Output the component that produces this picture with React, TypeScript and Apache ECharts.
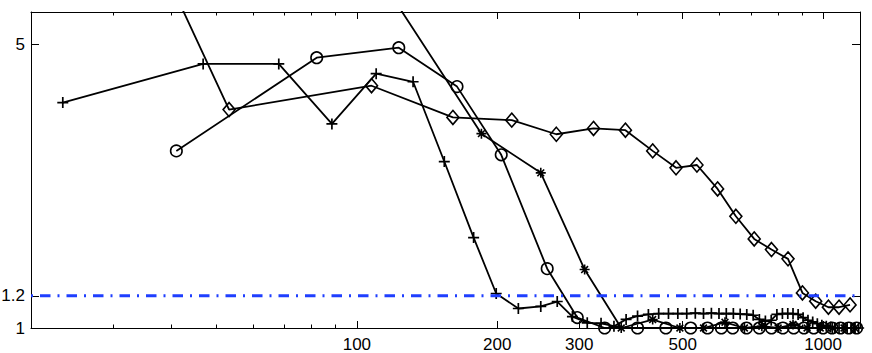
import React, { useEffect, useRef } from 'react';
import * as echarts from 'echarts';

// ---- tick values ----
const xMajorTicks = [100, 200, 300, 500, 1000];
const xMinorTicks = [30, 40, 50, 60, 70, 80, 90, 400, 600, 700, 800, 900];
const yTicks = [1, 1.2, 5];

// ---- series "+" ----
const plusX = [23.4, 46.8, 68, 88.4, 110, 132, 154, 178, 199, 222, 248, 269, 290, 312, 334, 356, 378, 400, 422, 444, 466, 488, 510, 532, 554, 576, 598, 620, 642, 664, 686, 708, 730, 752, 774, 796, 818, 840, 862, 884, 906, 928, 950, 972, 994, 1016, 1038, 1060, 1082, 1104, 1126, 1148, 1170, 1192];
const plusY = [3.59, 4.47, 4.47, 3.18, 4.23, 4.04, 2.57, 1.67, 1.216, 1.117, 1.13, 1.162, 1.067, 1.03, 1.027, 1.01, 1.05, 1.07, 1.08, 1.085, 1.085, 1.085, 1.085, 1.088, 1.085, 1.088, 1.085, 1.085, 1.085, 1.082, 1.08, 1.075, 1.05, 1.04, 1.045, 1.08, 1.085, 1.085, 1.085, 1.08, 1.06, 1.045, 1.035, 1.025, 1.015, 1.01, 1.005, 1.0, 1.0, 1.0, 1.0, 1.0, 1.0, 1.0];

// ---- series "*" ----
const starX = [62, 123, 185, 248, 308, 369, 431, 493, 554, 616, 678, 739, 801, 862, 924, 986, 1047, 1109, 1170];
const starY = [12, 6.18, 3.01, 2.41, 1.393, 1.0, 1.049, 1.0, 1.0, 1.033, 1.0, 1.01, 1.0, 1.02, 1.0, 1.0, 1.0, 1.0, 1.0];

// ---- series "o" ----
const circleX = [41, 82, 123, 164, 204, 256, 297, 340, 400, 460, 520, 565, 605, 640, 685, 730, 775, 820, 865, 910, 955, 1000, 1045, 1090, 1135, 1180];
const circleY = [2.73, 4.63, 4.9, 3.93, 2.67, 1.4, 1.061, 1.0, 1.0, 1.0, 1.0, 1.0, 1.0, 1.0, 1.0, 1.0, 1.0, 1.0, 1.0, 1.0, 1.0, 1.0, 1.0, 1.0, 1.0, 1.0];

// ---- series "diamond" ----
const diamondX = [35, 53.2, 107.5, 160.7, 214.9, 267.8, 321.8, 376.7, 431, 483.7, 536.3, 593.9, 650, 711.6, 775, 841, 903, 964, 1026.6, 1082, 1142.5];
const diamondY = [9.7, 3.45, 3.95, 3.3, 3.25, 3.0, 3.1, 3.07, 2.73, 2.48, 2.52, 2.2, 1.884, 1.657, 1.56, 1.48, 1.22, 1.164, 1.125, 1.125, 1.14];

// ---- threshold ----
const thresholdY = 1.2;

const X_MIN = 20;
const X_MAX = 1200;
const Y_MIN = 1;
const Y_MAX = 6;

const FONT = '"Liberation Sans", Arial, Helvetica, sans-serif';
const PLUS = 'path://M5,0L5,10M0,5L10,5';
const STAR = 'path://M5,0L5,10M0,5L10,5M1.6,1.6L8.4,8.4M8.4,1.6L1.6,8.4';

const zip = (xs: number[], ys: number[]) => xs.map((x, i) => [x, ys[i]]);

function xAxisDef(position: string, ticks: number[], len: number, showLine: boolean, showLabel: boolean) {
  return {
    type: 'log',
    logBase: 10,
    min: X_MIN,
    max: X_MAX,
    position,
    axisLine: { show: showLine, onZero: false, lineStyle: { color: '#000', width: 1 } },
    axisTick: { show: true, inside: true, length: len, customValues: ticks, lineStyle: { color: '#000', width: 1 } },
    axisLabel: showLabel
      ? {
          show: true,
          customValues: ticks,
          formatter: (v: number) => String(Math.round(v)),
          color: '#000',
          fontSize: 17,
          fontFamily: FONT,
          margin: 8,
        }
      : { show: false },
    splitLine: { show: false },
    minorTick: { show: false },
  };
}

function yAxisDef(position: string, showLabel: boolean) {
  return {
    type: 'log',
    logBase: 10,
    min: Y_MIN,
    max: Y_MAX,
    position,
    axisLine: { show: true, onZero: false, lineStyle: { color: '#000', width: 1 } },
    axisTick: { show: true, inside: true, length: 8, customValues: yTicks, lineStyle: { color: '#000', width: 1 } },
    axisLabel: showLabel
      ? {
          show: true,
          customValues: yTicks,
          formatter: (v: number) => String(Number(Number(v).toFixed(2))),
          color: '#000',
          fontSize: 17,
          fontFamily: FONT,
          margin: 6,
        }
      : { show: false },
    splitLine: { show: false },
    minorTick: { show: false },
  };
}

const lineBase = {
  type: 'line',
  xAxisIndex: 0,
  yAxisIndex: 0,
  clip: true,
  lineStyle: { color: '#000', width: 1.8 },
  emphasis: { disabled: true },
  z: 2,
};

export default function App() {
  const ref = useRef<HTMLDivElement>(null);
  useEffect(() => {
    const chart = echarts.init(ref.current as HTMLDivElement, null, { renderer: 'svg' });
    const option: any = {
      animation: false,
      backgroundColor: '#fff',
      grid: { left: 31, right: 12, top: 12, bottom: 25, containLabel: false, outerBoundsMode: 'none' },
      xAxis: [
        xAxisDef('bottom', xMajorTicks, 7, true, true),
        xAxisDef('bottom', xMinorTicks, 3.5, false, false),
        xAxisDef('top', xMajorTicks, 7, true, false),
        xAxisDef('top', xMinorTicks, 3.5, false, false),
      ],
      yAxis: [yAxisDef('left', true), yAxisDef('right', false)],
      series: [
        {
          ...lineBase,
          name: 'plus',
          data: zip(plusX, plusY),
          symbol: PLUS,
          symbolSize: 11,
          itemStyle: { color: '#000', borderColor: '#000', borderWidth: 1.7 },
        },
        {
          ...lineBase,
          name: 'star',
          data: zip(starX, starY),
          symbol: STAR,
          symbolSize: 10,
          itemStyle: { color: '#000', borderColor: '#000', borderWidth: 1.6 },
        },
        {
          ...lineBase,
          name: 'circle',
          data: zip(circleX, circleY),
          symbol: 'circle',
          symbolSize: 11.5,
          itemStyle: { color: 'rgba(255,255,255,0)', borderColor: '#000', borderWidth: 1.6 },
        },
        {
          ...lineBase,
          name: 'diamond',
          data: zip(diamondX, diamondY),
          symbol: 'diamond',
          symbolSize: [12, 14],
          itemStyle: { color: 'rgba(255,255,255,0)', borderColor: '#000', borderWidth: 1.6 },
        },
        {
          type: 'line',
          name: 'threshold',
          xAxisIndex: 0,
          yAxisIndex: 0,
          data: [
            [X_MIN, thresholdY],
            [X_MAX, thresholdY],
          ],
          symbol: 'none',
          lineStyle: { color: '#1f3fff', width: 3, type: [10.5, 7, 2, 7], dashOffset: -9 },
          emphasis: { disabled: true },
          z: 3,
        },
      ],
    };
    chart.setOption(option);
    return () => chart.dispose();
  }, []);
  return <div ref={ref} style={{ position: 'absolute', left: 0, top: 0, width: 872, height: 353 }} />;
}
